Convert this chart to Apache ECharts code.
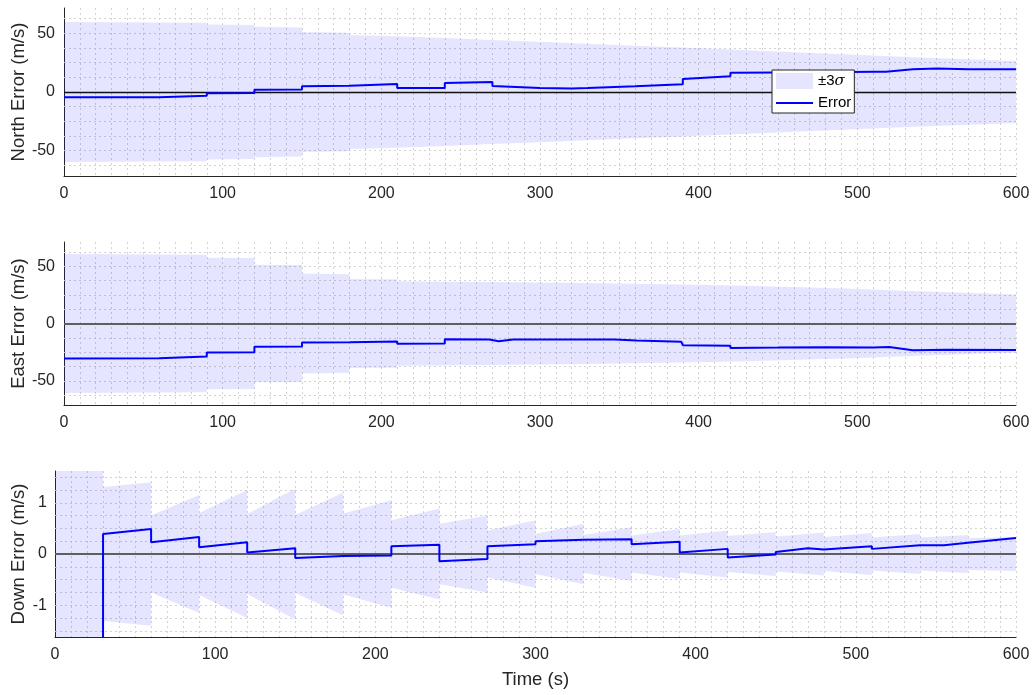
<!DOCTYPE html>
<html>
<head>
<meta charset="utf-8">
<script src="https://cdn.jsdelivr.net/npm/echarts@6/dist/echarts.min.js"></script>
<style>
html,body{margin:0;padding:0;background:#fff;}
#c{width:1034px;height:695px;}
</style>
</head>
<body>
<div id="c"></div>
<script>
// ---------- data ----------
// North
const northSigmaT = [0, 90, 90, 120, 120, 150, 150, 180, 180, 210, 240, 270, 300, 330, 360, 390, 420, 450, 480, 510, 540, 570, 600];
const northSigmaV = [59.5, 59, 57.5, 57, 55.5, 55, 51, 50.5, 48.5, 47.5, 46, 44.3, 42.7, 41, 39.3, 37.8, 36.2, 34.4, 32.7, 31, 29.4, 27.9, 26.4];
const northErrT = [0, 60, 60, 90, 90, 120, 120, 150, 150, 180, 180, 210, 210, 240, 240, 270, 270, 300, 320, 330, 330, 360, 360, 390, 390, 420, 420, 450, 480, 510, 510, 518, 535, 550, 570, 600];
const northErrV = [-4.5, -4.5, -3.5, -3.2, -1, -0.8, 2, 2.2, 5, 5.3, 6.5, 6.8, 3.4, 3.5, 7.7, 8.5, 5.1, 3.4, 2.9, 3.3, 4.6, 4.9, 6.3, 6.7, 11, 13.4, 16.3, 16.6, 16.9, 17.3, 19, 17.2, 19.4, 20, 19.3, 19.4];
// East
const eastSigmaT = [0, 90, 90, 120, 120, 150, 150, 180, 180, 210, 210, 270, 330, 400, 430, 493, 535, 577, 600];
const eastSigmaV = [60.5, 60, 57.3, 57, 51.2, 51, 43.5, 43, 38.8, 38.5, 36.7, 36.2, 35.3, 33.8, 32.8, 30.4, 28.4, 26.4, 25.2];
const eastErrT = [0, 60, 60, 90, 90, 120, 120, 150, 150, 180, 180, 210, 210, 240, 240, 268, 274, 283, 347, 361, 389, 390, 420, 420, 450, 480, 510, 520, 535, 556, 600];
const eastErrV = [-30.4, -30.2, -29, -28.8, -25.2, -25, -20.2, -20, -16.5, -16.3, -15.5, -15.6, -17.7, -17.4, -13.7, -14, -15.4, -14, -14, -14.9, -15.8, -18.9, -19.4, -21.3, -21, -20.6, -21, -20.4, -23.4, -22.8, -23];
// Down
const downSigmaT = [0, 30, 30, 60, 60, 90, 90, 120, 120, 150, 150, 180, 180, 210, 210, 240, 240, 270, 270, 300, 300, 330, 330, 360, 360, 390, 390, 420, 420, 450, 450, 480, 480, 510, 510, 540, 540, 570, 570, 600];
const downSigmaV = [5, 5, 1.31, 1.40, 0.75, 1.15, 0.8, 1.25, 0.78, 1.28, 0.76, 1.2, 0.79, 1.05, 0.66, 0.89, 0.59, 0.75, 0.46, 0.66, 0.39, 0.59, 0.37, 0.52, 0.36, 0.49, 0.36, 0.46, 0.35, 0.43, 0.34, 0.42, 0.33, 0.41, 0.32, 0.39, 0.32, 0.37, 0.31, 0.33];
const downErrT = [0, 30, 30, 60, 60, 90, 90, 120, 120, 150, 150, 180, 180, 210, 210, 240, 240, 270, 270, 300, 300, 330, 330, 360, 360, 390, 390, 420, 420, 450, 450, 470, 480, 510, 510, 540, 555, 570, 600];
const downErrV = [-3, -3, 0.39, 0.49, 0.23, 0.33, 0.13, 0.23, 0.03, 0.11, -0.08, -0.04, -0.07, -0.03, 0.15, 0.18, -0.14, -0.1, 0.15, 0.19, 0.25, 0.28, 0.25, 0.29, 0.19, 0.24, 0.03, 0.1, -0.07, -0.01, 0.04, 0.11, 0.09, 0.15, 0.1, 0.17, 0.17, 0.22, 0.31];

// axis ticks / grid positions
const xTickStep = 100;
const neYGrid = [-62.5, -50, -37.5, -25, -12.5, 0, 12.5, 25, 37.5, 50, 62.5];
const dYGrid = [-1.5, -1.25, -1, -0.75, -0.5, -0.25, 0, 0.25, 0.5, 0.75, 1, 1.25, 1.5];
const yNames = ['North Error (m/s)', 'East Error (m/s)', 'Down Error (m/s)'];

// ---------- styling ----------
const FONT = "'Liberation Sans', Arial, Helvetica, sans-serif";
const TXT = '#262626';
const BAND = 'rgba(0,0,255,0.1)';
const GRIDC = '#d2d2d2';
const gridDash = [2, 3];

const panels = [
  { sigT: northSigmaT, sigV: northSigmaV, errT: northErrT, errV: northErrV, ymin: -71.5, ymax: 71.5, yGrid: neYGrid,
    grid: { left: 64, right: 18, top: 8, height: 168 }, nameGap: 35.5, labelMargin: 9, zeroColor: '#111', zeroWidth: 1.3 },
  { sigT: eastSigmaT, sigV: eastSigmaV, errT: eastErrT, errV: eastErrV, ymin: -71, ymax: 71, yGrid: neYGrid,
    grid: { left: 64, right: 18, top: 242, height: 163 }, nameGap: 35.5, labelMargin: 9, zeroColor: '#5f5f5f', zeroWidth: 2 },
  { sigT: downSigmaT, sigV: downSigmaV, errT: downErrT, errV: downErrV, ymin: -1.62, ymax: 1.62, yGrid: dYGrid,
    grid: { left: 55, right: 18, top: 471, height: 166 }, nameGap: 26.5, labelMargin: 8, zeroColor: '#5f5f5f', zeroWidth: 2 }
];

function pairs(t, v) { return t.map((x, i) => [x, v[i]]); }

// band (±3σ) drawn as one polygon through the axis scales
function bandRenderer(p) {
  return function (params, api) {
    if (params.dataIndex !== 0) return null;
    const upper = p.sigT.map((t, i) => api.coord([t, p.sigV[i]]));
    const lower = p.sigT.map((t, i) => api.coord([t, -p.sigV[i]])).reverse();
    const cs = params.coordSys;
    const pts = echarts.graphic.clipPointsByRect(upper.concat(lower), { x: cs.x, y: cs.y, width: cs.width, height: cs.height });
    return { type: 'polygon', shape: { points: pts }, style: { fill: BAND, stroke: null }, silent: true };
  };
}

const grids = [], xAxes = [], yAxes = [], series = [];
panels.forEach((p, i) => {
  grids.push(Object.assign({ containLabel: false, outerBoundsMode: 'none' }, p.grid));
  xAxes.push({
    gridIndex: i, type: 'value', min: 0, max: 600, interval: xTickStep,
    axisLine: { show: true, onZero: false, lineStyle: { color: TXT, width: 1 } },
    axisTick: { show: false },
    axisLabel: { fontSize: 16, color: TXT, fontFamily: FONT, margin: 10 },
    splitLine: { show: true, lineStyle: { color: GRIDC, type: gridDash, width: 1 } },
    minorTick: { show: false, splitNumber: 10 },
    minorSplitLine: { show: true, lineStyle: { color: GRIDC, type: gridDash, width: 1 } },
    name: i === 2 ? 'Time (s)' : '', nameLocation: 'middle', nameGap: 33.5, nameMoveOverlap: false,
    nameTextStyle: { fontSize: 18.5, color: TXT, fontFamily: FONT }
  });
  yAxes.push({
    gridIndex: i, type: 'value', min: p.ymin, max: p.ymax, splitNumber: 3,
    axisLine: { show: true, onZero: false, lineStyle: { color: TXT, width: 1 } },
    axisTick: { show: false },
    axisLabel: { fontSize: 16, color: TXT, fontFamily: FONT, margin: p.labelMargin, showMinLabel: false, showMaxLabel: false },
    splitLine: { show: false },
    name: yNames[i], nameLocation: 'middle', nameGap: p.nameGap, nameMoveOverlap: false,
    nameTextStyle: { fontSize: 18.5, color: TXT, fontFamily: FONT }
  });
  series.push({
    name: '±3σ', type: 'custom', xAxisIndex: i, yAxisIndex: i,
    data: pairs(p.sigT, p.sigV), encode: { x: 0, y: 1 },
    renderItem: bandRenderer(p), itemStyle: { color: BAND }, color: BAND, silent: true, z: 2,
    markLine: {
      z: 1, silent: true, symbol: ['none', 'none'], label: { show: false }, animation: false,
      lineStyle: { color: GRIDC, type: gridDash, width: 1 }, emphasis: { disabled: true },
      data: p.yGrid.map(v => ({ yAxis: v }))
    }
  });
  series.push({
    name: 'Error', type: 'line', xAxisIndex: i, yAxisIndex: i, color: '#0000ff',
    data: pairs(p.errT, p.errV), symbol: 'none', showSymbol: false,
    lineStyle: { color: '#0000ff', width: 2 }, z: 5, silent: true,
    markLine: {
      z: 4, silent: true, symbol: ['none', 'none'], label: { show: false }, animation: false,
      lineStyle: { color: p.zeroColor, type: 'solid', width: p.zeroWidth }, emphasis: { disabled: true },
      data: [{ yAxis: 0 }]
    }
  });
});

const chart = echarts.init(document.getElementById('c'), null, { renderer: 'canvas' });
chart.setOption({
  animation: false,
  backgroundColor: '#fff',
  grid: grids, xAxis: xAxes, yAxis: yAxes, series: series,
  legend: {
    orient: 'vertical', left: 772, top: 70, z: 20,
    backgroundColor: '#fff', borderColor: TXT, borderWidth: 1, borderRadius: 0,
    padding: [3, 3, 2, 4], itemGap: 6, itemWidth: 37, itemHeight: 16, itemTextGap: 4,
    selectedMode: false,
    textStyle: { fontSize: 15, color: '#000', fontFamily: FONT,
      rich: { s: { fontSize: 15, fontStyle: 'italic', fontFamily: "'DejaVu Serif', 'Liberation Serif', serif", color: '#000' } } },
    formatter: function (n) { return n === '±3σ' ? '±3{s|σ}' : n; },
    data: [
      { name: '±3σ', icon: 'rect', itemStyle: { color: BAND, borderWidth: 0 } },
      { name: 'Error', icon: 'path://M0 0H0.01V0.01H0Z M0 7H37V9H0Z M36.99 15.99H37V16H36.99Z', itemStyle: { color: '#0000ff', borderWidth: 0 } }
    ]
  }
});
</script>
</body>
</html>
